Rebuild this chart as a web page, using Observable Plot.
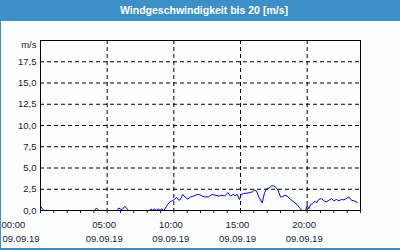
<!DOCTYPE html>
<html>
<head>
<meta charset="utf-8">
<script src="https://cdn.jsdelivr.net/npm/d3@7"></script>
<script src="https://cdn.jsdelivr.net/npm/@observablehq/plot@0.6"></script>
<style>
  html, body { margin: 0; padding: 0; background: #fbfefd; }
  #wrap { position: relative; width: 400px; height: 250px; background: #fbfefd; overflow: hidden; }
  #title { position: absolute; left: 0; top: 0; width: 400px; height: 21px; background: #3d8fc7;
           color: #fff; font: bold 10.5px "Liberation Sans", sans-serif; line-height: 20px;
           text-align: center; box-sizing: border-box; padding-left: 8px; }
  #bl { position: absolute; left: 0; top: 21px; width: 1px; height: 229px; background: #3d8fc7; }
  #bb { position: absolute; left: 0; top: 248px; width: 400px; height: 2px; background: #3d8fc7; }
  #chart { position: absolute; left: 0; top: 21px; }
</style>
</head>
<body>
<div id="wrap">
  <div id="title">Windgeschwindigkeit bis 20 [m/s]</div>
  <div id="chart"></div>
  <div id="bl"></div>
  <div id="bb"></div>
</div>
<script>
const hours = [0, 0.25, 2, 4.05, 4.2, 4.35, 5.75, 5.87, 6.05, 6.15, 6.33, 6.6, 8.2, 8.3, 8.4, 8.55, 8.65, 8.85, 8.95, 9.1, 9.25,
  9.5, 9.68, 9.88, 10.05, 10.2, 10.37, 10.5, 10.67, 10.82, 11.05, 11.25, 11.5, 11.75, 11.95, 12.13, 12.3, 12.6, 12.88,
  13.1, 13.37, 13.6, 13.8, 14.05, 14.25, 14.45, 14.6, 14.75, 14.93, 15.05, 15.25, 15.5, 15.7, 15.88, 16.05, 16.2, 16.37,
  16.63, 16.8, 16.98, 17.15, 17.33, 17.5, 17.68, 17.83, 18.0, 18.12, 18.33, 18.5, 18.75, 19.0, 19.25, 19.45, 19.63, 19.88,
  20.0, 20.13, 20.25, 20.42, 20.58, 20.7, 20.87, 21.08, 21.25, 21.43, 21.63, 21.83, 22.0, 22.2, 22.38, 22.58, 22.75, 22.93,
  23.13, 23.33, 23.5, 23.75];
const speeds = [0.5, 0, 0, 0, 0.3, 0, 0, 0.3, 0.1, 0.15, 0.5, 0, 0, 0.2, 0, 0.2, 0, 0.2, 0, 0.2, 0,
  0.6, 1.0, 1.15, 1.3, 1.55, 1.2, 1.3, 1.9, 1.6, 1.35, 1.6, 1.7, 1.9, 1.85, 1.7, 1.6, 1.6, 1.9,
  1.8, 1.7, 1.8, 1.7, 2.1, 1.7, 1.9, 1.75, 1.9, 1.3, 1.9, 2.0, 2.05, 2.1, 2.2, 2.4, 2.3, 1.6,
  0.9, 2.1, 2.6, 2.65, 2.9, 2.9, 2.7, 2.3, 1.6, 1.6, 1.8, 1.7, 1.3, 1.0, 0.7, 0.25, 0, 0,
  0.6, 0.2, 0.7, 0.8, 1.1, 0.9, 1.3, 1.4, 1.15, 1.0, 1.2, 1.4, 1.15, 1.3, 1.15, 1.3, 1.25, 1.4,
  1.6, 1.2, 1.15, 0.95];

const yTicks = [0, 2.5, 5, 7.5, 10, 12.5, 15, 17.5];
const labelHours = [0, 5, 10, 15, 20];
const timeLabels = ["00:00", "05:00", "10:00", "15:00", "20:00"];
const dateLabels = ["09.09.19", "09.09.19", "09.09.19", "09.09.19", "09.09.19"];
const unitLabel = "m/s";

const data = hours.map((h, i) => ({h, v: speeds[i]}));
const idx = d3.range(1, labelHours.length);
const dash = "4,3";
const labelColor = "#1a1a3a";

const chart = Plot.plot({
  width: 400,
  height: 229,
  marginLeft: 40,
  marginRight: 40,
  marginTop: 19,
  marginBottom: 40,
  x: {domain: [0, 24]},
  y: {domain: [0, 20]},
  style: {background: "transparent", fontFamily: "'Liberation Sans', sans-serif", fontSize: "9.5px", color: labelColor},
  marks: [
    Plot.gridY(yTicks.slice(1), {stroke: "#000", strokeOpacity: 1, strokeDasharray: dash}),
    Plot.gridX(labelHours.slice(1), {stroke: "#000", strokeOpacity: 1, strokeDasharray: dash}),
    Plot.line(data, {x: "h", y: "v", stroke: "#0000ff", strokeWidth: 1}),
    Plot.frame({stroke: "#000"}),
    Plot.axisY(yTicks, {tickSize: 0, tickPadding: 4, label: null, fill: labelColor,
      tickFormat: d => d.toFixed(1).replace(".", ",")}),
    Plot.axisX(d3.range(0, 25), {tickSize: 3, tickFormat: () => "", label: null}),
    Plot.text(idx, {x: i => labelHours[i], text: i => timeLabels[i], frameAnchor: "bottom", dy: 14, dx: -3, fill: labelColor, lineAnchor: "middle"}),
    Plot.text(idx, {x: i => labelHours[i], text: i => dateLabels[i], frameAnchor: "bottom", dy: 28, dx: -3, fill: labelColor, lineAnchor: "middle"}),
    Plot.text([0], {x: i => labelHours[i], text: i => timeLabels[i], frameAnchor: "bottom", dy: 14, dx: -39, textAnchor: "start", fill: labelColor, lineAnchor: "middle"}),
    Plot.text([0], {x: i => labelHours[i], text: i => dateLabels[i], frameAnchor: "bottom", dy: 28, dx: -38, textAnchor: "start", fill: labelColor, lineAnchor: "middle"}),
    Plot.text([unitLabel], {frameAnchor: "top-left", dx: -4, dy: 4, textAnchor: "end", lineAnchor: "middle", fill: labelColor})
  ]
});
document.getElementById("chart").appendChild(chart);
</script>
</body>
</html>
